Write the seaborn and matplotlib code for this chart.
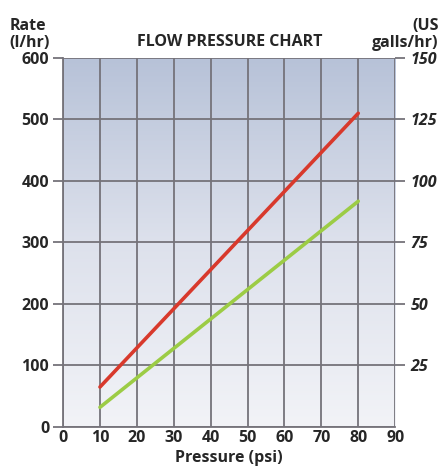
import numpy as np
import pandas as pd
import matplotlib.pyplot as plt
import seaborn as sns

# values
pressure = [10, 80]
rate_red = [65, 510]
rate_green = [32, 367]
x_ticks = [0, 10, 20, 30, 40, 50, 60, 70, 80, 90]
y_ticks = [0, 100, 200, 300, 400, 500, 600]
gal_ticks = [25, 50, 75, 100, 125, 150]

df = pd.concat([
    pd.DataFrame({'Pressure': pressure, 'Rate': rate_red, 'series': 'red'}),
    pd.DataFrame({'Pressure': pressure, 'Rate': rate_green, 'series': 'green'}),
])

sns.set_theme(style="white")
plt.rcParams['font.family'] = ['Open Sans', 'DejaVu Sans']

fig = plt.figure(figsize=(4.41, 4.66), dpi=100)
ax = fig.add_axes([0.143, 0.0837, 0.753, 0.792])

# background gradient, blue-grey at top fading to near white
grad = np.linspace(0, 1, 256).reshape(-1, 1)
cmap = sns.blend_palette(['#f2f3f7', '#dde1ec', '#b7c2d8'], as_cmap=True)
ax.imshow(grad, aspect='auto', cmap=cmap, origin='lower',
          extent=[0, 90, 0, 600], zorder=0)

sns.lineplot(data=df, x='Pressure', y='Rate', hue='series',
             palette={'red': '#d8392c', 'green': '#9ccc45'},
             linewidth=2.6, legend=False, ax=ax, zorder=3)

ax.set_xlim(0, 90)
ax.set_ylim(0, 600)
ax.set_xticks(x_ticks)
ax.set_yticks(y_ticks)
ax.grid(True, color='#75737a', linewidth=1.3, zorder=1)
ax.set_axisbelow(False)
for s in ['top', 'right']:
    ax.spines[s].set_visible(False)
for s in ['left', 'bottom']:
    ax.spines[s].set_color('#75737a')
    ax.spines[s].set_linewidth(1.3)

fs = 11.5
ax.tick_params(axis='y', length=7, width=1.3, color='#75737a', pad=3,
               labelsize=fs, left=True)
ax.tick_params(axis='x', length=0, pad=2, labelsize=fs)
for lab in ax.get_xticklabels() + ax.get_yticklabels():
    lab.set_fontweight('bold')

ax.set_xlabel('Pressure (psi)', fontsize=fs, fontweight='bold', labelpad=0)
ax.xaxis.set_label_coords(0.5, -0.062)
ax.xaxis.label.set_va('top')
ax.set_ylabel('')

# secondary axis in US gallons per hour
ax2 = ax.twinx()
ax2.set_ylim(0, 150)
ax2.set_yticks(gal_ticks)
ax2.tick_params(axis='y', length=7, width=1.3, color='#75737a', pad=4,
                labelsize=fs, right=True)
for lab in ax2.get_yticklabels():
    lab.set_fontweight('bold')
    lab.set_fontstyle('italic')
for s in ax2.spines.values():
    s.set_visible(False)

fig.text(0.52, 0.893, 'FLOW PRESSURE CHART', ha='center', va='bottom',
         fontsize=fs, fontweight='bold')
fig.text(0.022, 0.89, 'Rate\n(l/hr)', ha='left', va='bottom',
         fontsize=fs, fontweight='bold', linespacing=1.1)
fig.text(0.995, 0.89, '(US\ngalls/hr)', ha='right', va='bottom',
         fontsize=fs, fontweight='bold', linespacing=1.1, multialignment='right')

fig.savefig('out.png', dpi=100)
